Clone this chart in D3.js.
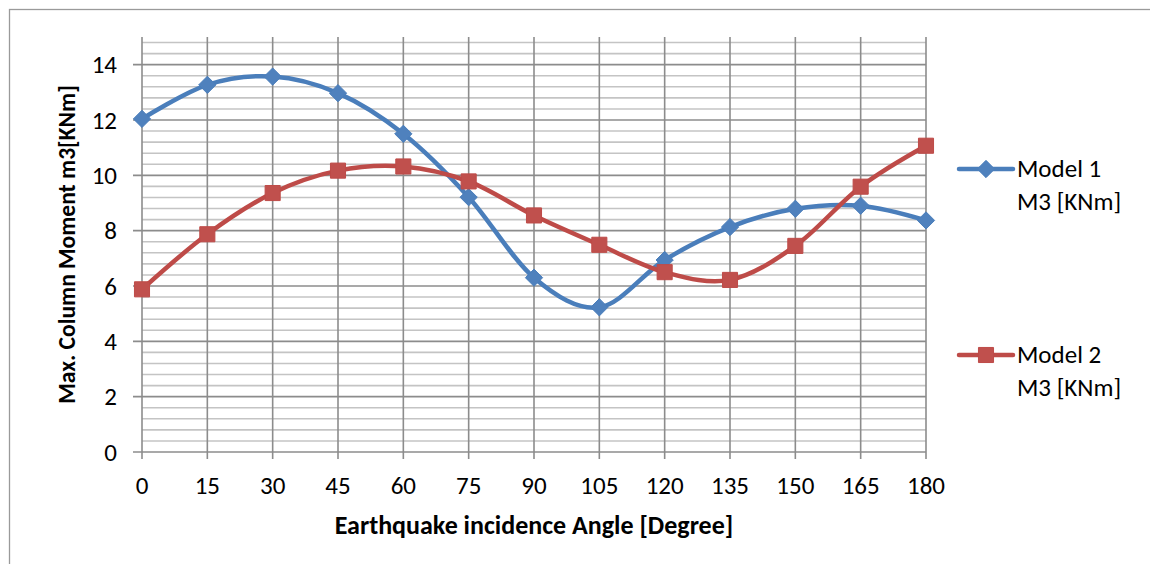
<!DOCTYPE html>
<html>
<head>
<meta charset="utf-8">
<script src="https://cdn.jsdelivr.net/npm/d3@7"></script>
<style>
  html, body { margin: 0; padding: 0; background: #fff; }
  svg { display: block; }
  text { font-family: Calibri, Carlito, Lato, "Open Sans", sans-serif; fill: #000; }
</style>
</head>
<body>
<svg id="chart" width="1150" height="564"></svg>
<script>
// Incidence angles (degrees)
const angles = [0, 15, 30, 45, 60, 75, 90, 105, 120, 135, 150, 165, 180];
// Max column moment M3 [KNm] for each model
const model1 = [12.04, 13.27, 13.57, 12.97, 11.50, 9.21, 6.30, 5.23, 6.94, 8.13, 8.79, 8.90, 8.37];
const model2 = [5.88, 7.87, 9.36, 10.17, 10.32, 9.78, 8.55, 7.49, 6.50, 6.22, 7.45, 9.59, 11.07];
const yTicks = [0, 2, 4, 6, 8, 10, 12, 14];
const seriesNames = [["Model 1", "M3 [KNm]"], ["Model 2", "M3 [KNm]"]];

const svg = d3.select("#chart");

// outer chart frame
svg.append("rect")
  .attr("x", 9.5).attr("y", 9.5).attr("width", 1200).attr("height", 600)
  .attr("fill", "none").attr("stroke", "#9a9a9a").attr("stroke-width", 1.3);

const x = d3.scaleLinear().domain([0, 180]).range([142, 926]);
const y = d3.scaleLinear().domain([0, 15]).range([452, 37]);

const grid = svg.append("g");
// minor horizontal lines every 0.4
const minor = d3.range(0.4, 15, 0.4).filter(v => Math.abs(v / 2 - Math.round(v / 2)) > 1e-6);
grid.selectAll(".minor").data(minor).join("line")
  .attr("x1", x(0)).attr("x2", x(180))
  .attr("y1", d => y(d)).attr("y2", d => y(d))
  .attr("stroke", "#c4c4c4").attr("stroke-width", 1.6);
// major horizontal lines
grid.selectAll(".major").data(yTicks).join("line")
  .attr("x1", x(0) - 9).attr("x2", x(180))
  .attr("y1", d => y(d)).attr("y2", d => y(d))
  .attr("stroke", "#8c8c8c").attr("stroke-width", 1.6);
// vertical lines with tick extensions below the axis
grid.selectAll(".vert").data(angles).join("line")
  .attr("x1", d => x(d)).attr("x2", d => x(d))
  .attr("y1", y(15)).attr("y2", y(0) + 7)
  .attr("stroke", "#8c8c8c").attr("stroke-width", 1.6);

// tick labels
svg.append("g").selectAll("text").data(yTicks).join("text")
  .attr("x", 117).attr("y", d => y(d))
  .attr("text-anchor", "end").attr("dominant-baseline", "central")
  .attr("font-size", 25).text(d => d);
svg.append("g").selectAll("text").data(angles).join("text")
  .attr("x", d => x(d)).attr("y", 494)
  .attr("text-anchor", "middle")
  .attr("font-size", 25).text(d => d);

// axis titles
svg.append("text")
  .attr("x", (x(0) + x(180)) / 2).attr("y", 534)
  .attr("text-anchor", "middle").attr("font-weight", "bold")
  .attr("font-size", 26).text("Earthquake incidence Angle [Degree]");
svg.append("text")
  .attr("transform", `translate(75,${(y(0) + y(15)) / 2}) rotate(-90)`)
  .attr("text-anchor", "middle").attr("font-weight", "bold")
  .attr("font-size", 23.5).text("Max. Column Moment m3[KNm]");

const line = d3.line()
  .x((d, i) => x(angles[i]))
  .y(d => y(d))
  .curve(d3.curveCatmullRom.alpha(0));

const series = [
  { values: model1, line: "#4a7ebb", fill: "#4f81bd", shape: d3.symbolDiamond2, size: 190 },
  { values: model2, line: "#be4b48", fill: "#c0504d", shape: d3.symbolSquare2, size: 290 }
];

series.forEach(s => {
  const g = svg.append("g");
  g.append("path").attr("d", line(s.values))
    .attr("fill", "none").attr("stroke", s.line).attr("stroke-width", 4.5)
    .attr("stroke-linejoin", "round").attr("stroke-linecap", "round");
  g.selectAll("path.m").data(s.values).join("path")
    .attr("class", "m")
    .attr("transform", (d, i) => `translate(${x(angles[i])},${y(d)})`)
    .attr("d", d3.symbol().type(s.shape).size(s.size)())
    .attr("fill", s.fill).attr("stroke", s.line).attr("stroke-width", 1);
});

// legend
const legendY = [169, 355];
series.forEach((s, i) => {
  const g = svg.append("g").attr("transform", `translate(0,${legendY[i]})`);
  g.append("line").attr("x1", 959).attr("x2", 1013).attr("y1", 0).attr("y2", 0)
    .attr("stroke", s.line).attr("stroke-width", 4.5).attr("stroke-linecap", "round");
  g.append("path").attr("transform", "translate(986,0)")
    .attr("d", d3.symbol().type(s.shape).size(s.size)())
    .attr("fill", s.fill).attr("stroke", s.line).attr("stroke-width", 1);
  g.append("text").attr("x", 1017).attr("y", 8).attr("font-size", 25).text(seriesNames[i][0]);
  g.append("text").attr("x", 1017).attr("y", 41).attr("font-size", 25).text(seriesNames[i][1]);
});
</script>
</body>
</html>
